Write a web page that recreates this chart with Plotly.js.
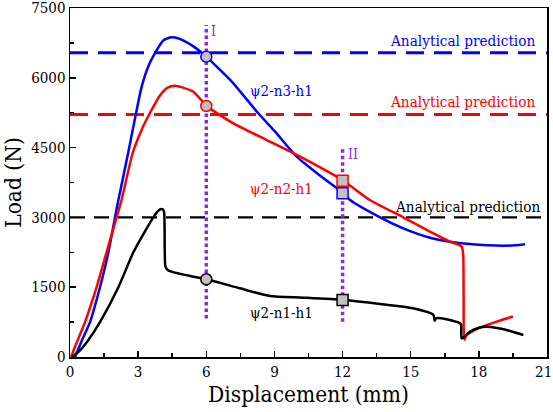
<!DOCTYPE html>
<html>
<head>
<meta charset="utf-8">
<script src="https://cdn.plot.ly/plotly-3.0.1.min.js"></script>
<style>html,body{margin:0;padding:0;background:#fff}#chart{width:553px;height:412px}</style>
</head>
<body>
<div id="chart"></div>
<script>
// ψ2-n3-h1 (blue)
const n3X = [0.22,0.5,0.88,1.32,1.69,1.98,2.13,2.56,2.85,3.15,3.45,3.74,4.1,4.3,4.48,4.75,5.0,5.45,6.0,6.5,7.19,8.29,9.0,9.98,11.0,12.03,12.33,13.65,14.67,15.85,16.73,17.61,18.4,19.08,19.6,20.03];
const n3Y = [0,330,750,1500,2250,3000,3374,4384,5100,5800,6250,6530,6800,6850,6870,6850,6800,6670,6455,6220,5882,5237,4860,4305,3900,3520,3374,3002,2766,2564,2478,2428,2402,2392,2400,2422];
// ψ2-n2-h1 (red)
const n2X = [0.05,0.22,0.66,1.17,1.61,2.05,2.27,2.76,3.15,3.52,3.96,4.3,4.62,4.9,5.43,6.02,6.5,7.19,8.66,10.13,12.03,13.2,14.67,15.85,16.73,17.12,17.25,17.31,17.33,17.36,17.46,18.05,18.79,19.5];
const n2Y = [0,220,750,1500,2250,3000,3374,4384,4880,5244,5620,5790,5831,5800,5702,5394,5230,5022,4663,4305,3789,3374,3002,2693,2478,2412,2370,2200,1300,370,470,630,760,870];
// ψ2-n1-h1 (black)
const n1X = [0.08,0.4,0.81,1.32,2.13,2.79,3.3,3.67,3.88,3.98,4.08,4.14,4.17,4.2,4.3,4.5,5.0,6.02,7.48,8.8,10.27,12.03,13.65,15.1,16.0,16.05,16.12,16.2,16.58,17.17,17.22,17.24,17.35,17.6,18.0,18.35,18.8,19.22,19.96];
const n1Y = [0,120,365,750,1500,2250,2700,3000,3140,3175,3175,3120,2300,1950,1870,1830,1770,1670,1476,1311,1275,1225,1139,1046,903,780,831,840,810,724,690,400,430,540,630,650,625,580,473];

// Axis ticks
const xTickVals = [0,3,6,9,12,15,18,21];
const xTickText = ["0","3","6","9","12","15","18","21\u2002"];
const yTickVals = [0,1500,3000,4500,6000,7500];

// Analytical predictions
const predVals = [6540, 5210, 3000];
const predX = [0, 21];
// Stages I and II
const stageX = [6, 12];
const stageLabels = ["I", "II"];
const stageTop = [7135, 4520];
const stageBottom = [830, 760];
const circY = [6455, 5394, 1670];   // at x = 6 (n3, n2, n1)
const sqY = [3520, 3789, 1225];     // at x = 12 (n3, n2, n1)

const seriesNames = ["ψ2-n3-h1", "ψ2-n2-h1", "ψ2-n1-h1"];
const colors = ["#0000ff", "#ff0000", "#000000"];
const purple = "#8a2be2";
const labelX = [9.31, 9.31, 9.31];
const labelY = [5723, 3610, 946];
const predLabelX = [20.56, 20.56, 20.77];
const predLabelY = [6800, 5480, 3230];

const font = "DejaVu Serif Condensed, DejaVu Serif, serif";
const traces = [];

predVals.forEach((v, i) => {
  traces.push({x: predX, y: [v, v], mode: "lines", hoverinfo: "skip",
    line: {color: colors[i], width: i === 2 ? 2.2 : 3, dash: i === 2 ? "15px,9px" : "18px,10px"}});
});

const curvesX = [n3X, n2X, n1X];
const curvesY = [n3Y, n2Y, n1Y];
curvesX.forEach((cx, i) => {
  traces.push({x: cx, y: curvesY[i], mode: "lines", name: seriesNames[i],
    line: {color: colors[i], width: 2.5, shape: "spline", smoothing: 0.6}});
});

stageX.forEach((sx, i) => {
  traces.push({x: [sx, sx], y: [stageBottom[i], stageTop[i]], mode: "lines", hoverinfo: "skip",
    line: {color: purple, width: 3.5, dash: "3.5px,3px"}});
});

traces.push({x: circY.map(() => stageX[0]), y: circY, mode: "markers",
  marker: {symbol: "circle", size: 11, color: "#c0c0c0", line: {color: colors, width: 1.5}}});
traces.push({x: sqY.map(() => stageX[1]), y: sqY, mode: "markers",
  marker: {symbol: "square", size: 11, color: "#c0c0c0", line: {color: colors, width: 1.5}}});

const annotations = [];
seriesNames.forEach((n, i) => {
  annotations.push({x: labelX[i], y: labelY[i], text: n, showarrow: false,
    xanchor: "center", yanchor: "middle", font: {family: font, size: 15, color: colors[i]}});
  annotations.push({x: predLabelX[i], y: predLabelY[i], text: "Analytical prediction", showarrow: false,
    xanchor: "right", yanchor: "middle", font: {family: font, size: 15.2, color: colors[i]}});
});
annotations.push({x: 6.3, y: 7010, text: stageLabels[0], showarrow: false, xanchor: "center", yanchor: "middle",
  font: {family: font, size: 14, color: purple}});
annotations.push({x: 12.48, y: 4373, text: stageLabels[1], showarrow: false, xanchor: "center", yanchor: "middle",
  font: {family: font, size: 14, color: purple}});

const axisCommon = {
  showgrid: false, zeroline: false, showline: true, linecolor: "#000", linewidth: 1.5, mirror: true,
  ticks: "inside", ticklen: 6, tickwidth: 1.5, tickcolor: "#000",
  ticklabeloverflow: "allow",
  tickfont: {family: font, size: 15, color: "#000"}
};

const layout = {
  width: 553, height: 412,
  margin: {l: 70, r: 6, t: 8, b: 55},
  paper_bgcolor: "#fff", plot_bgcolor: "#fff",
  showlegend: false,
  font: {family: font},
  xaxis: Object.assign({}, axisCommon, {
    range: [0, 21], tickmode: "array", tickvals: xTickVals, ticktext: xTickText,
    minor: {tickvals: [1.5,4.5,7.5,10.5,13.5,16.5,19.5], ticks: "inside", ticklen: 4, tickwidth: 1.5, tickcolor: "#000"},
    title: {text: "Displacement (mm)", font: {family: font, size: 22.5, color: "#000"}, standoff: 0}
  }),
  yaxis: Object.assign({}, axisCommon, {
    range: [0, 7500], tickvals: yTickVals,
    minor: {tickvals: [750,2250,3750,5250,6750], ticks: "inside", ticklen: 4, tickwidth: 1.5, tickcolor: "#000"},
    title: {text: "Load (N)", font: {family: font, size: 22.5, color: "#000"}, standoff: 7}
  }),
  annotations: annotations
};

Plotly.newPlot("chart", traces, layout, {displayModeBar: false, staticPlot: true});
</script>
</body>
</html>
